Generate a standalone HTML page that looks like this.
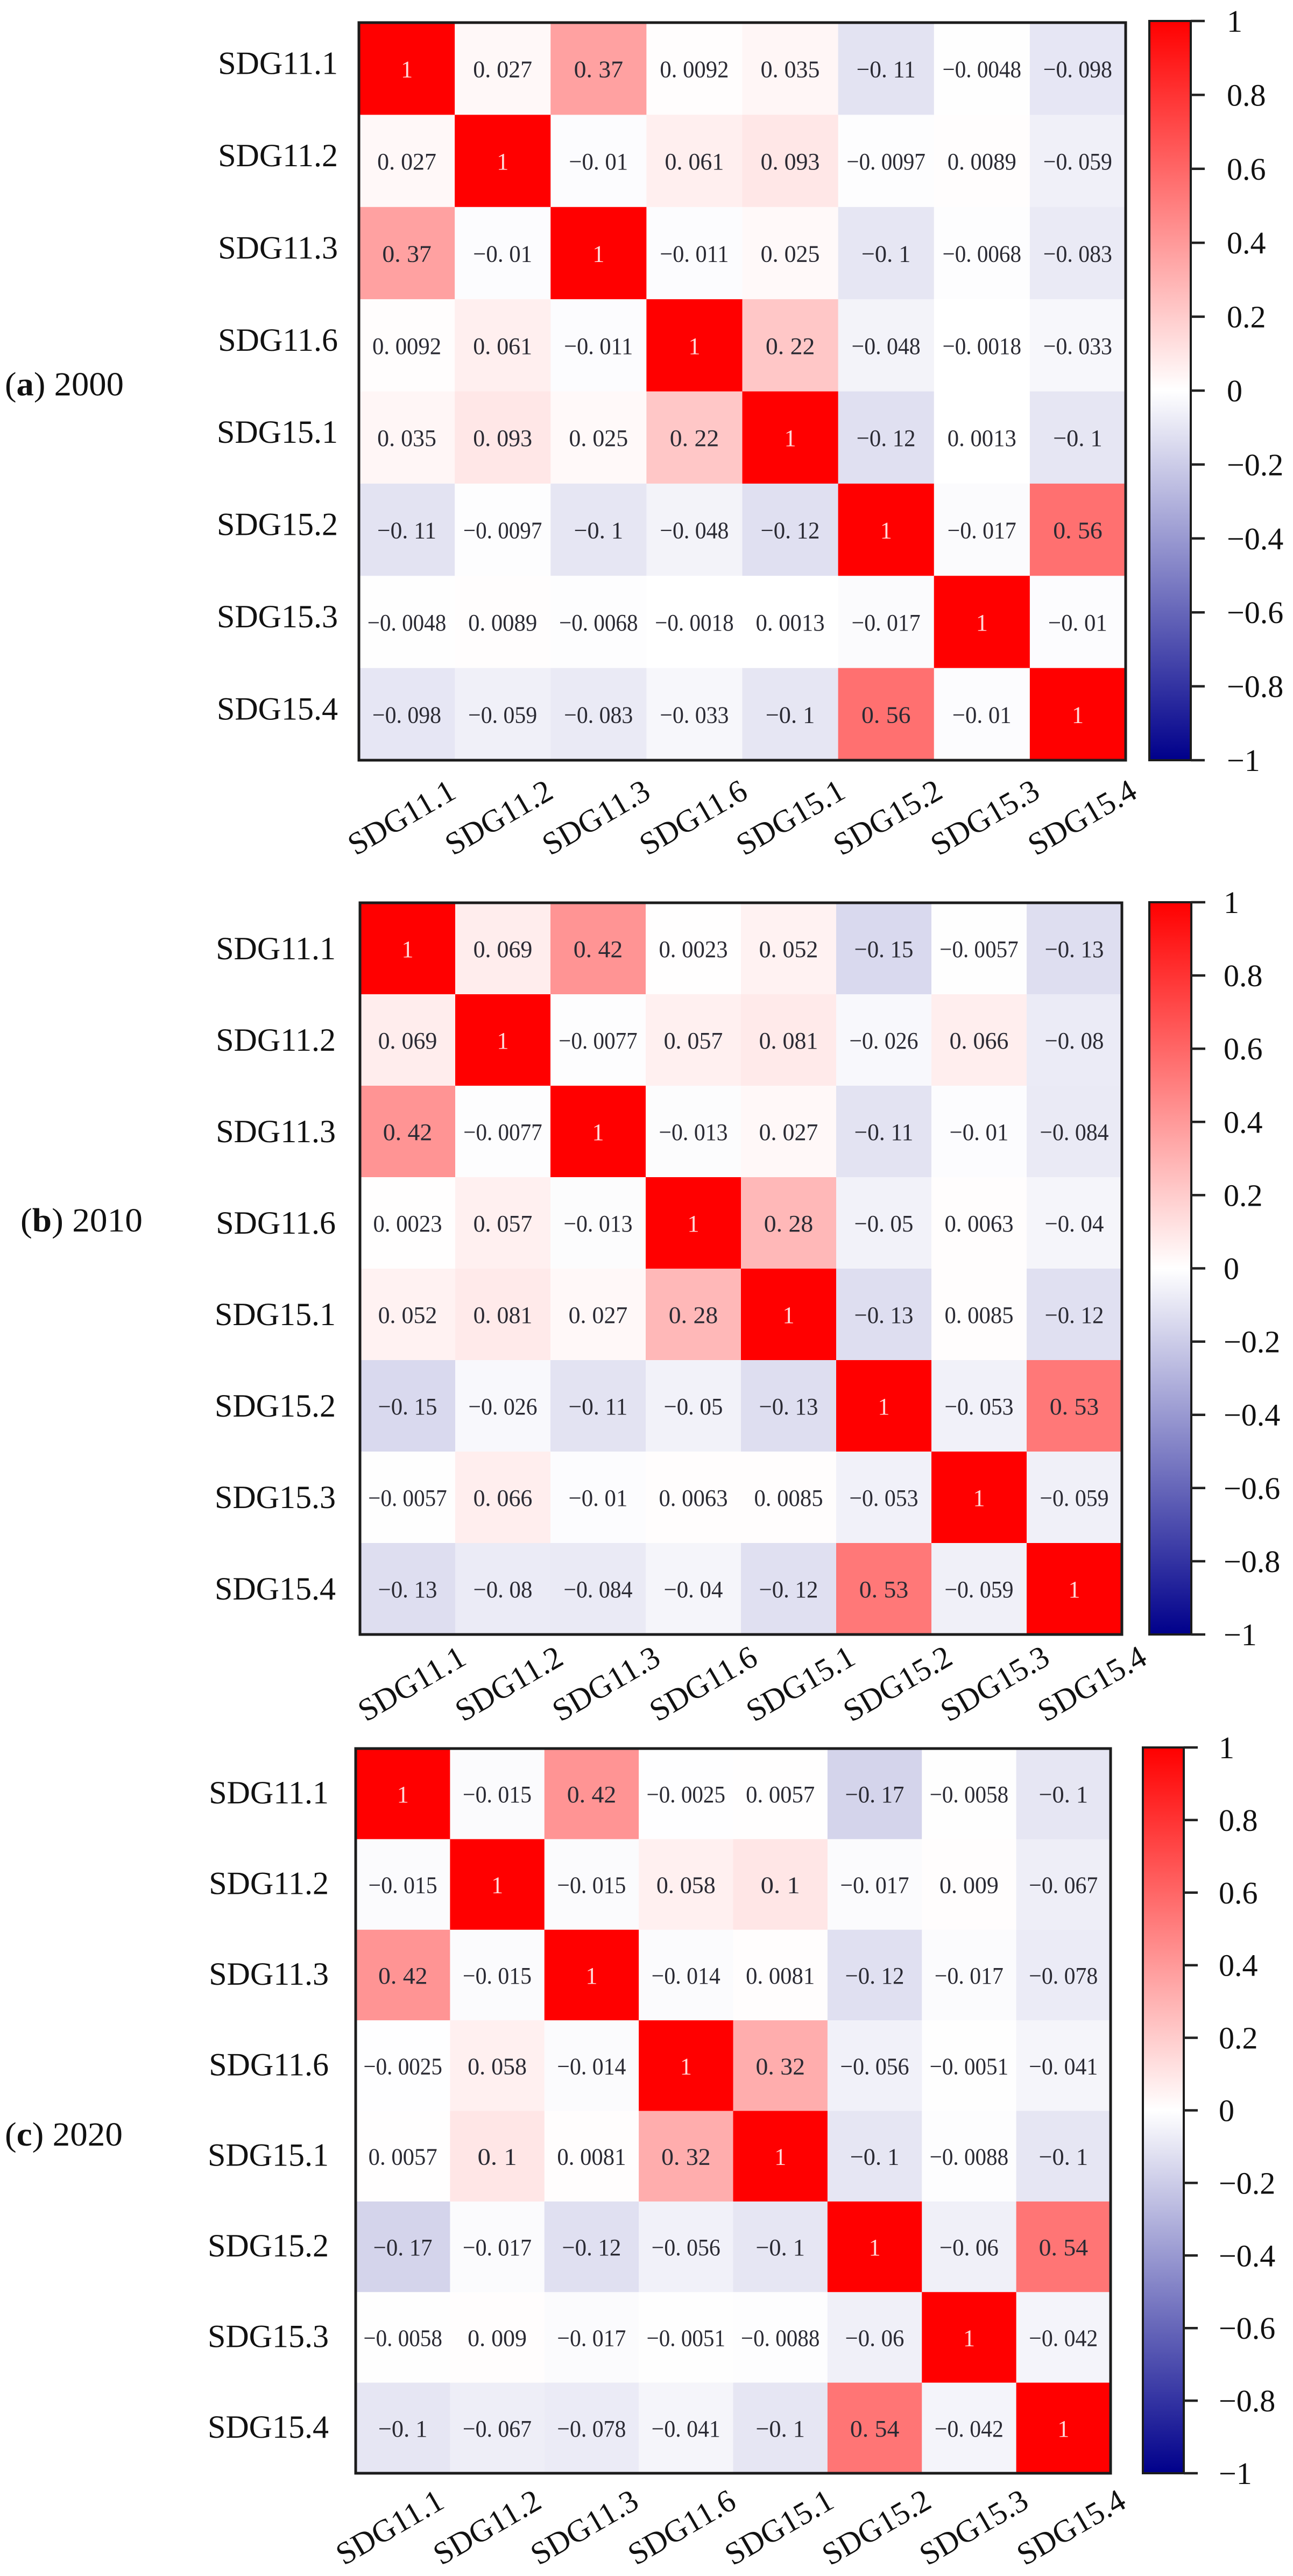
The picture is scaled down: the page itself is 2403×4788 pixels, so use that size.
<!DOCTYPE html>
<html lang="en">
<head>
<meta charset="utf-8">
<title>SDG correlation heatmaps 2000, 2010, 2020</title>
<style>
html,body{margin:0;padding:0;background:#fff;}
svg{display:block;}
text{font-family:"Liberation Serif",serif;}
</style>
</head>
<body>
<svg id="figure" xmlns="http://www.w3.org/2000/svg" width="2403" height="4788" viewBox="0 0 2403 4788">
  <defs id="defs"></defs>
  <rect x="0" y="0" width="2403" height="4788" fill="#ffffff"></rect>
  <text x="9" y="735" font-size="62" fill="#111" textLength="221" lengthAdjust="spacingAndGlyphs">(<tspan font-weight="bold">a</tspan>) 2000</text>
  <text x="38" y="2289" font-size="62" fill="#111" textLength="227" lengthAdjust="spacingAndGlyphs">(<tspan font-weight="bold">b</tspan>) 2010</text>
  <text x="9" y="3988" font-size="62" fill="#111" textLength="219" lengthAdjust="spacingAndGlyphs">(<tspan font-weight="bold">c</tspan>) 2020</text>
</svg>
<script>
const categories = ['SDG11.1','SDG11.2','SDG11.3','SDG11.6','SDG15.1','SDG15.2','SDG15.3','SDG15.4'];
const colorbarTicks = [1,0.8,0.6,0.4,0.2,0,-0.2,-0.4,-0.6,-0.8,-1];
const values2000 = [
  [1,0.027,0.37,0.0092,0.035,-0.11,-0.0048,-0.098],
  [0.027,1,-0.01,0.061,0.093,-0.0097,0.0089,-0.059],
  [0.37,-0.01,1,-0.011,0.025,-0.1,-0.0068,-0.083],
  [0.0092,0.061,-0.011,1,0.22,-0.048,-0.0018,-0.033],
  [0.035,0.093,0.025,0.22,1,-0.12,0.0013,-0.1],
  [-0.11,-0.0097,-0.1,-0.048,-0.12,1,-0.017,0.56],
  [-0.0048,0.0089,-0.0068,-0.0018,0.0013,-0.017,1,-0.01],
  [-0.098,-0.059,-0.083,-0.033,-0.1,0.56,-0.01,1]
];
const values2010 = [
  [1,0.069,0.42,0.0023,0.052,-0.15,-0.0057,-0.13],
  [0.069,1,-0.0077,0.057,0.081,-0.026,0.066,-0.08],
  [0.42,-0.0077,1,-0.013,0.027,-0.11,-0.01,-0.084],
  [0.0023,0.057,-0.013,1,0.28,-0.05,0.0063,-0.04],
  [0.052,0.081,0.027,0.28,1,-0.13,0.0085,-0.12],
  [-0.15,-0.026,-0.11,-0.05,-0.13,1,-0.053,0.53],
  [-0.0057,0.066,-0.01,0.0063,0.0085,-0.053,1,-0.059],
  [-0.13,-0.08,-0.084,-0.04,-0.12,0.53,-0.059,1]
];
const values2020 = [
  [1,-0.015,0.42,-0.0025,0.0057,-0.17,-0.0058,-0.1],
  [-0.015,1,-0.015,0.058,0.1,-0.017,0.009,-0.067],
  [0.42,-0.015,1,-0.014,0.0081,-0.12,-0.017,-0.078],
  [-0.0025,0.058,-0.014,1,0.32,-0.056,-0.0051,-0.041],
  [0.0057,0.1,0.0081,0.32,1,-0.1,-0.0088,-0.1],
  [-0.17,-0.017,-0.12,-0.056,-0.1,1,-0.06,0.54],
  [-0.0058,0.009,-0.017,-0.0051,-0.0088,-0.06,1,-0.042],
  [-0.1,-0.067,-0.078,-0.041,-0.1,0.54,-0.042,1]
];

const NS = 'http://www.w3.org/2000/svg';
const svg = document.getElementById('figure');
const defs = document.getElementById('defs');

function make(tag, parent) {
  const node = document.createElementNS(NS, tag);
  parent.appendChild(node);
  return node;
}
function put(node, props) {
  for (const k in props) node.setAttribute(k, props[k]);
}
function colorOf(v) {
  const c = Math.max(-1, Math.min(1, v));
  if (c >= 0) {
    const g = Math.round(255 * (1 - c));
    return 'rgb(255,' + g + ',' + g + ')';
  }
  const t = -c;
  const rg = Math.round(255 * (1 - t));
  const b = Math.round(255 + (139 - 255) * t);
  return 'rgb(' + rg + ',' + rg + ',' + b + ')';
}
function cellLabel(v) {
  return String(Math.abs(v)).replace('.', '. ').replace(/^/, v < 0 ? '\u2212' : '');
}
function tickLabel(v) {
  return (v < 0 ? '\u2212' : '') + String(Math.abs(v));
}

function drawHeatmap(panel, values) {
  const g = make('g', svg);
  
  
  const cols = categories.length;
  const xScale = i => panel.left + (panel.right - panel.left) * i / cols;
  const yScale = i => panel.top + (panel.bottom - panel.top) * i / cols;

  values.forEach((row, r) => {
    row.forEach((v, c) => {
      const rect = make('rect', g);
      
      
      put(rect, {x: xScale(c), y: yScale(r), width: xScale(c + 1) - xScale(c) + 0.5, height: yScale(r + 1) - yScale(r) + 0.5, fill: colorOf(v)});
    });
  });
  values.forEach((row, r) => {
    row.forEach((v, c) => {
      const t = make('text', g);
      
      
      const label = cellLabel(v);
      const cx = (xScale(c) + xScale(c + 1)) / 2;
      const cy = (yScale(r) + yScale(r + 1)) / 2;
      const len = label.length * 18.3;
      put(t, {x: cx, y: cy + 16, 'font-size': 44, 'text-anchor': 'middle', fill: v > 0.75 ? '#ffd8d8' : '#2a2a33'});
      if (label.length > 1) put(t, {textLength: len, lengthAdjust: 'spacingAndGlyphs'});
      t.textContent = label;
    });
  });

  const frame = make('rect', g);
  
  
  put(frame, {x: panel.left, y: panel.top, width: panel.right - panel.left, height: panel.bottom - panel.top, fill: 'none', stroke: '#1c1c1c', 'stroke-width': 5});

  categories.forEach((name, i) => {
    const yl = make('text', g);
    
    
    put(yl, {x: panel.yLabelRight, y: (yScale(i) + yScale(i + 1)) / 2 + panel.yLabelShift + 20, 'font-size': 60, 'text-anchor': 'end', fill: '#111'});
    yl.textContent = name;

    const xl = make('text', g);
    
    
    const lx = panel.xLabelStart + panel.xLabelStep * i;
    put(xl, {x: 0, y: 20, 'font-size': 59, 'text-anchor': 'middle', fill: '#111', transform: 'translate(' + lx + ',' + panel.xLabelY + ') rotate(-30)'});
    xl.textContent = name;
  });

  const cb = panel.bar;
  const gradId = 'ramp-' + panel.id;
  const grad = make('linearGradient', defs);
  put(grad, {id: gradId, x1: 0, y1: 0, x2: 0, y2: 1});
  colorbarTicks.forEach((v, i) => {
    const stop = make('stop', grad);
    put(stop, {offset: i / (colorbarTicks.length - 1), 'stop-color': colorOf(v)});
  });
  const barScale = v => cb.top + (1 - v) / 2 * (cb.bottom - cb.top);
  const bar = make('rect', g);
  
  
  put(bar, {x: cb.left, y: cb.top, width: cb.right - cb.left, height: cb.bottom - cb.top, fill: 'url(#' + gradId + ')', stroke: '#1c1c1c', 'stroke-width': 4});
  colorbarTicks.forEach(v => {
    const tick = make('line', g);
    
    
    put(tick, {x1: cb.right, x2: cb.right + 26, y1: barScale(v), y2: barScale(v), stroke: '#222', 'stroke-width': 4.5});
    const lab = make('text', g);
    
    
    put(lab, {x: cb.labelX, y: barScale(v) + 20, 'font-size': 58, fill: '#111'});
    lab.textContent = tickLabel(v);
  });
}

drawHeatmap({
  id: '2000', left: 667, right: 2092, top: 42, bottom: 1413,
  yLabelRight: 628, yLabelShift: -10,
  xLabelStart: 746, xLabelStep: 180.7, xLabelY: 1519,
  bar: {left: 2136, right: 2213, top: 39, bottom: 1413, labelX: 2280}
}, values2000);
drawHeatmap({
  id: '2010', left: 669, right: 2085, top: 1678, bottom: 3038,
  yLabelRight: 624, yLabelShift: 0,
  xLabelStart: 765, xLabelStep: 180.6, xLabelY: 3129,
  bar: {left: 2136, right: 2214, top: 1677, bottom: 3038, labelX: 2274}
}, values2010);
drawHeatmap({
  id: '2020', left: 661, right: 2064, top: 3250, bottom: 4597,
  yLabelRight: 611, yLabelShift: -2,
  xLabelStart: 724, xLabelStep: 180.9, xLabelY: 4697,
  bar: {left: 2124, right: 2200, top: 3248, bottom: 4597, labelX: 2265}
}, values2020);
</script>
</body>
</html>
